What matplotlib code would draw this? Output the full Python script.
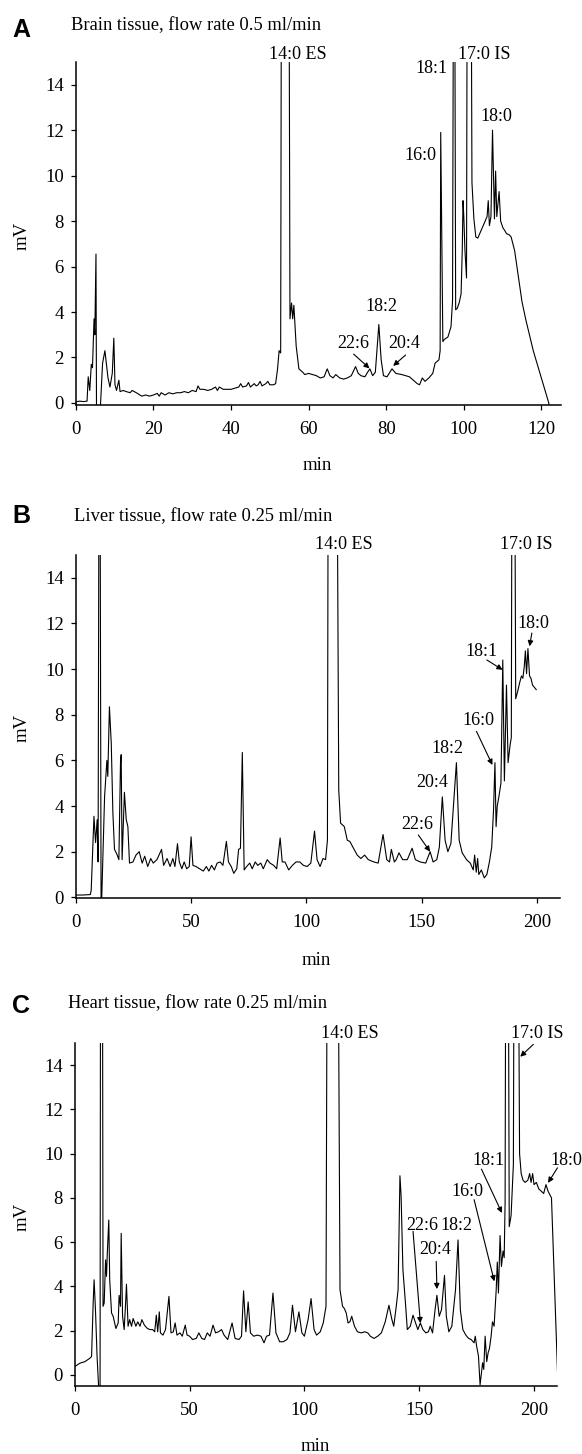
import matplotlib
matplotlib.use('Agg')
import matplotlib.pyplot as plt

W, H, DPI = 582, 1454, 100

# ---------------- data ----------------
brain_time = [0, 1, 2, 2.9, 3.2, 3.6, 4.0, 4.3, 4.7, 4.9, 5.2, 5.35, 6.1, 6.9, 7.3, 7.5, 7.9, 8.3, 8.8, 9.4,
              9.8, 10.1, 10.5, 11.1, 11.4, 12.2, 13, 14, 14.5, 15.6, 16.5, 17, 18, 19, 20, 21, 21.5, 22, 23, 24,
              25, 26, 27, 28, 29, 30, 31, 31.5, 32, 33, 34, 35, 36, 36.5, 37, 38, 39, 40, 41, 42, 42.5, 43, 44,
              44.5, 45, 46, 46.5, 47, 47.5, 48, 49, 49.5, 50, 51, 51.5, 52, 52.4, 52.8, 53.1, 54.8, 55.2, 55.6,
              55.9, 56.2, 56.8, 57.5, 58.5, 59, 60, 61, 62, 63, 64, 64.8, 65.5, 66.3, 67, 68, 69, 70, 71, 72.1,
              72.8, 73.5, 74.5, 75.2, 75.8, 76.5, 77.2, 78.1, 78.7, 79.3, 80.2, 81.5, 82.5, 84, 85, 86, 87, 88,
              88.6, 89.3, 90, 91, 92, 92.6, 93.6, 93.9, 94.05, 94.6, 95.0, 95.9, 96.7, 97.1, 97.5, 97.9, 98.3,
              98.8, 99.3, 99.6, 99.8, 100.0, 100.3, 100.7, 101.0, 101.7, 102.1, 102.6, 103.1, 103.6, 104.5,
              105.5, 106.0, 106.3, 106.6, 107.0, 107.4, 107.9, 108.2, 108.5, 109.1, 109.5, 110.1, 110.5, 111.0,
              111.7, 112.2, 113.1, 114.1, 115.0, 116.0, 117.9, 119.8, 121.9, 122.3]
brain_mv = [0.05, 0.08, 0.06, 0.08, 1.15, 0.55, 1.7, 1.55, 3.7, 3.0, 6.55, -1, -1, 1.75, 2.1, 2.3, 1.7, 1.1, 0.7, 1.3,
            2.85, 0.8, 0.55, 1.0, 0.5, 0.55, 0.5, 0.45, 0.55, 0.45, 0.35, 0.3, 0.35, 0.3, 0.35, 0.42, 0.3, 0.45, 0.35, 0.45,
            0.4, 0.45, 0.45, 0.5, 0.45, 0.55, 0.5, 0.75, 0.6, 0.6, 0.55, 0.6, 0.7, 0.55, 0.7, 0.6, 0.6, 0.6, 0.65, 0.7, 0.85, 0.7, 0.75,
            0.9, 0.7, 0.85, 0.75, 0.8, 0.95, 0.75, 0.85, 0.95, 0.8, 0.8, 0.85, 1.5, 2.3, 2.2, 30, 30, 3.7, 4.4,
            3.7, 4.3, 2.5, 1.5, 1.35, 1.25, 1.3, 1.25, 1.2, 1.1, 1.15, 1.5, 1.2, 1.1, 1.25, 1.1, 1.05, 1.1, 1.2, 1.6,
            1.3, 1.2, 1.15, 1.35, 1.5, 1.2, 1.35, 3.45, 1.9, 1.2, 1.15, 1.5, 1.3, 1.25, 1.2, 1.15, 1.0, 0.85,
            0.8, 1.1, 0.95, 1.1, 1.3, 1.75, 1.9, 2.3, 11.9, 2.7, 2.8, 2.9, 3.35, 4.5, 30, 4.1, 4.16,
            4.4, 4.8, 6.7, 8.9, 8.2, 6.7, 5.5, 30, 30, 9.7, 8.1, 7.3, 7.25, 7.6,
            8.0, 8.2, 8.9, 7.8, 8.2, 12.0, 8.1, 10.2, 8.2, 9.3, 8.0, 7.7, 7.6, 7.45,
            7.4, 7.3, 6.7, 5.5, 4.45, 3.65, 2.3, 1.2, 0.0, -0.5]

liver_time = [0, 3, 6.4, 6.8, 8.0, 8.7, 9.4, 9.8, 10.4, 11.1, 11.6, 12.6, 13.6, 14.0, 14.7, 15.5, 16.2, 16.9, 17.9,
              18.8, 19.5, 19.8, 20.2, 21.2, 22.0, 22.7, 23.4, 24.9, 26.2, 27.6, 28.9, 30.0, 31.3, 32.6, 33.7, 35.3,
              37.3, 38.2, 39.7, 41.0, 42.2, 43.1, 44.2, 45.0, 46.1, 47.1, 48.2, 49.3, 50.1, 50.9, 52.2, 53.8, 55.4,
              56.7, 57.8, 59.0, 60.2, 61.4, 62.7, 63.9, 65.4, 66.3, 67.5, 68.6, 69.9, 70.7, 71.5, 72.3, 73.1, 74.2,
              75.5, 76.6, 77.9, 79.0, 80.3, 81.4, 83.1, 84.3, 85.9, 87.2, 88.7, 89.6, 90.8, 92.4, 94.0, 95.6, 97.2,
              98.8, 100.4, 102.0, 103.6, 104.7, 106.0, 107.3, 108.4, 109.2, 109.7, 112.9, 114.1, 114.9, 116.5,
              117.8, 118.9, 120.5, 122.1, 123.7, 125.3, 126.9, 129.3, 131.2, 133.3, 134.9, 136.1, 136.9, 138.2,
              139.0, 140.2, 141.8, 143.8, 145.9, 147.3, 149.4, 151.8, 153.7, 155.0, 156.6, 157.7, 159.0, 160.2,
              161.4, 162.7, 164.3, 165.1, 166.3, 167.6, 169.5, 171.1, 172.4, 173.0, 173.7, 174.3, 174.8, 175.9,
              177.2, 178.3, 179.4, 180.4, 181.2, 181.8, 182.3, 182.8, 183.5, 184.4, 185.2, 185.9, 186.8, 187.5,
              188.4, 188.9, 189.4, 190.0, 190.8, 191.6, 192.5, 193.3, 193.9, 194.5, 195.0, 195.5, 196.1, 196.8,
              197.4, 198.1, 198.9, 199.7]
liver_mv = [0.1, 0.1, 0.12, 0.3, 3.55, 2.4, 3.4, 1.55, 30, -1, 0.75, 4.4, 6.0, 5.3, 8.35, 6.75, 3.7, 2.1, 1.9,
            1.65, 5.9, 6.25, 1.65, 4.6, 3.4, 3.1, 1.5, 1.55, 1.85, 2.0, 1.5, 1.8, 1.35, 1.7, 1.5, 1.65,
            2.1, 1.4, 1.7, 1.35, 1.7, 1.35, 2.35, 1.55, 1.25, 1.55, 1.25, 1.35, 2.65, 1.4, 1.35, 1.25, 1.15,
            1.35, 1.15, 1.4, 1.2, 1.5, 1.55, 1.4, 2.45, 1.55, 1.35, 1.05, 1.25, 2.1, 2.15, 6.35, 1.2, 1.35,
            1.5, 1.25, 1.55, 1.4, 1.5, 1.25, 1.65, 1.5, 1.4, 1.25, 2.6, 1.55, 1.55, 1.2, 1.4, 1.55, 1.55,
            1.4, 1.35, 1.5, 2.9, 1.65, 1.35, 1.7, 1.65, 2.5, 30, 30, 4.7, 3.25, 3.1,
            2.5, 2.45, 2.15, 1.85, 1.7, 1.85, 1.65, 1.55, 1.5, 2.75, 1.65, 1.55, 2.1, 1.55,
            1.65, 1.95, 1.65, 1.65, 2.15, 1.65, 1.55, 1.5, 2.0, 1.55, 1.65, 2.2, 4.4, 2.5,
            2.0, 2.35, 4.7, 5.9, 2.5, 1.95, 1.65, 1.5, 1.2, 1.85, 1.1, 1.7, 1.0, 1.2,
            0.85, 1.0, 1.55, 2.2, 3.85, 5.9, 3.1, 4.0, 4.4, 5.0, 10.4, 5.1, 9.3, 5.9,
            6.7, 7.0, 30, 30, 8.7, 9.0, 9.4, 9.7, 9.6, 10.1, 10.8, 9.8, 10.9, 9.7,
            9.6, 9.3, 9.2, 9.1]

heart_time = [0, 2.2, 4.4, 6.5, 7.3, 8.0, 8.4, 9.0, 9.7, 10.6, 11.0, 11.3, 11.9, 12.3, 12.8, 13.4, 13.8, 14.2, 14.8,
              15.2, 16.0, 16.7, 17.9, 18.9, 19.3, 19.9, 20.2, 20.8, 21.5, 22.2, 22.5, 23.2, 23.9, 24.7, 25.4, 26.6,
              27.4, 28.4, 29.2, 30.3, 31.6, 32.7, 33.9, 34.8, 35.5, 36.1, 36.8, 37.3, 38.4, 39.5, 41.0, 41.9, 42.9,
              43.7, 44.5, 45.8, 46.8, 48.1, 48.9, 50.0, 51.3, 52.9, 54.0, 55.3, 56.5, 57.7, 58.9, 60.2, 61.3, 62.6,
              63.9, 65.0, 66.6, 68.5, 69.8, 71.5, 72.6, 73.5, 74.5, 75.5, 76.5, 77.9, 79.5, 81.1, 82.4, 83.5, 84.8,
              86.3, 87.6, 89.2, 90.8, 92.4, 93.7, 94.8, 96.1, 97.6, 98.9, 100.0, 101.6, 102.9, 104.2, 105.3, 106.9,
              108.2, 109.4, 110.2, 114.2, 115.5, 116.6, 117.4, 118.2, 119.0, 119.8, 120.6, 121.8, 123.1, 124.7,
              126.3, 127.6, 128.7, 130.3, 131.9, 133.5, 135.2, 136.8, 138.1, 138.9, 140.0, 140.8, 141.6, 142.1,
              142.9, 144.0, 144.8, 146.1, 147.3, 148.4, 149.4, 150.5, 151.6, 152.9, 154.0, 154.8, 155.8, 156.9,
              157.7, 158.7, 159.7, 161.0, 161.8, 162.9, 164.2, 165.8, 166.9, 167.9, 169.0, 170.3, 171.5, 172.6,
              173.9, 174.4, 175.0, 175.8, 176.5, 177.1, 177.6, 178.1, 178.7, 179.4, 180.0, 180.6, 181.3, 181.9,
              182.6, 183.1, 183.5, 184.0, 184.5, 185.2, 185.8, 186.5, 187.0, 187.4, 187.9, 188.5, 189.2, 190.0,
              191.0, 191.6, 192.7, 193.7, 194.4, 195.2, 196.1, 197.3, 198.1, 198.7, 199.4, 200.0, 201.0, 202.1,
              203.2, 204.2, 205.2, 206.1, 207.6, 209.0, 210.2]
heart_mv = [0.38, 0.53, 0.6, 0.75, 0.83, 3.25, 4.3, 2.95, 0.83, -1, -1, 30, 30, 3.1, 3.25, 5.2, 4.45, 5.6, 7.0,
            4.3, 2.8, 2.65, 2.1, 2.35, 3.6, 3.1, 6.4, 2.65, 2.05, 3.4, 4.1, 2.2, 2.5, 2.2, 2.55, 2.2,
            2.4, 2.2, 2.5, 2.25, 2.1, 2.05, 2.05, 1.95, 2.7, 1.95, 2.85, 1.9, 1.8, 2.05, 3.55, 1.9, 1.95,
            2.35, 1.8, 1.9, 1.75, 2.25, 1.8, 1.75, 1.6, 1.65, 1.9, 1.65, 1.6, 1.9, 1.75, 2.25, 1.9, 1.95,
            2.05, 1.8, 1.6, 2.35, 1.65, 1.6, 1.75, 3.8, 1.95, 3.3, 1.9, 1.75, 1.8, 1.75, 1.45, 1.75, 1.8,
            3.7, 1.9, 1.5, 1.5, 1.6, 1.9, 3.15, 1.95, 2.85, 1.9, 1.75, 2.5, 3.45, 2.05, 1.8, 1.95,
            2.35, 3.1, 30, 30, 3.85, 3.1, 3.0, 2.8, 2.35, 2.4, 2.65, 2.2, 1.95, 1.9,
            1.95, 1.9, 1.75, 1.65, 1.75, 1.9, 2.4, 3.15, 2.5, 2.2, 3.1, 3.85, 9.0, 8.1,
            4.75, 3.25, 2.05, 2.2, 2.7, 2.35, 2.05, 2.35, 2.05, 1.9, 1.95, 2.2, 1.9, 2.95,
            3.6, 2.65, 2.95, 4.5, 2.65, 1.95, 2.2, 3.85, 6.1, 2.95, 2.05, 1.8, 1.65, 1.6,
            1.45, 1.75, 1.3, 0.85, -0.45, 0.1, 0.55, 0.25, 1.75, 0.6, 1.0, 1.2, 1.75, 2.4,
            2.2, 3.1, 3.8, 5.1, 3.7, 6.3, 4.9, 5.6, 5.3, 7.8, 30, 30, 6.7, 7.2,
            9.5, 30, 30, 10.0, 9.1, 8.8, 8.7, 8.8, 9.1, 8.7, 9.1, 8.6, 8.7, 8.4,
            8.3, 8.2, 8.6, 8.3, 8.0, 3.8, 0.2]

brain_labels = [("14:0 ES", 57.3, 15.35, None), ("18:1", 91.6, 14.7, None), ("17:0 IS", 105.3, 15.35, None),
                ("16:0", 88.8, 10.9, None), ("18:0", 108.5, 12.6, None), ("18:2", 78.8, 4.23, None),
                ("22:6", 71.6, 2.6, ((71.6, 2.15), (75.7, 1.52))),
                ("20:4", 84.7, 2.6, ((85.0, 2.11), (81.8, 1.63)))]
liver_labels = [("14:0 ES", 116.1, 15.45, None), ("17:0 IS", 195.2, 15.45, None),
                ("18:0", 198.4, 12.0, ((197.8, 11.58), (196.8, 11.0))),
                ("18:1", 175.9, 10.75, ((178.3, 10.4), (185.1, 9.97))),
                ("16:0", 174.6, 7.75, ((173.8, 7.27), (180.7, 5.8))),
                ("18:2", 161.4, 6.5, None), ("20:4", 154.7, 5.03, None),
                ("22:6", 148.3, 3.2, ((148.6, 2.73), (153.7, 2.0)))]
heart_labels = [("14:0 ES", 119.8, 15.44, None),
                ("17:0 IS", 201.3, 15.44, ((199.7, 14.94), (194.0, 14.38))),
                ("18:0", 214.2, 9.7, ((210.2, 9.36), (206.1, 8.68))),
                ("18:1", 180.3, 9.7, ((177.1, 9.3), (186.0, 7.32))),
                ("16:0", 171.0, 8.27, ((173.9, 7.92), (182.7, 4.23))),
                ("22:6", 151.3, 6.76, ((147.3, 6.49), (150.5, 2.34))),
                ("18:2", 166.1, 6.76, None),
                ("20:4", 156.9, 5.66, ((157.4, 5.13), (157.7, 3.88)))]

titles = ["Brain tissue, flow rate 0.5 ml/min", "Liver tissue, flow rate 0.25 ml/min",
          "Heart tissue, flow rate 0.25 ml/min"]
letters = ["A", "B", "C"]

# ---------------- layout ----------------
plt.rcParams['font.family'] = ['Liberation Serif', 'DejaVu Serif']
fig = plt.figure(figsize=(W / DPI, H / DPI), dpi=DPI)


def px(x, y):
    return x / W, 1 - y / H


panels = [
    dict(t=brain_time, v=brain_mv, labels=brain_labels, box=(75.8, 560.8, 62, 405), xlim=(0, 125),
         ylim=(-0.09, 15), xticks=list(range(0, 121, 20)), letter_xy=(12, 37), title_xy=(71, 30),
         xlab_y=470, ylab_y=236),
    dict(t=liver_time, v=liver_mv, labels=liver_labels, box=(75.5, 560.0, 555, 898), xlim=(0, 210),
         ylim=(-0.03, 15), xticks=list(range(0, 201, 50)), letter_xy=(12, 523), title_xy=(74, 521),
         xlab_y=965, ylab_y=728),
    dict(t=heart_time, v=heart_mv, labels=heart_labels, box=(74.8, 557.0, 1043, 1386), xlim=(0, 210),
         ylim=(-0.5, 15), xticks=list(range(0, 201, 50)), letter_xy=(12, 1013), title_xy=(68, 1008),
         xlab_y=1451, ylab_y=1217),
]

for i, p in enumerate(panels):
    l, r, t, b = p['box']
    ax = fig.add_axes([l / W, 1 - b / H, (r - l) / W, (b - t) / H])
    ax.plot(p['t'], p['v'], color='black', lw=0.8)
    ax.set_xlim(*p['xlim'])
    ax.set_ylim(*p['ylim'])
    ax.set_xticks(p['xticks'])
    ax.set_yticks(list(range(0, 15, 2)))
    for s in ('top', 'right'):
        ax.spines[s].set_visible(False)
    for s in ('left', 'bottom'):
        ax.spines[s].set_linewidth(1.1)
    ax.tick_params(axis='both', direction='out', length=3.5, width=0.9, labelsize=13.5)
    ax.tick_params(axis='x', pad=8)
    ax.tick_params(axis='y', pad=5)
    for lab, tx, ty, arrow in p['labels']:
        ax.text(tx, ty, lab, ha='center', va='center', fontsize=13, clip_on=False)
        if arrow is not None:
            ax.annotate('', xy=arrow[1], xytext=arrow[0], annotation_clip=False,
                        arrowprops=dict(arrowstyle='-|>', color='black', lw=0.8,
                                        mutation_scale=8, shrinkA=0, shrinkB=0))
    fig.text(*px(*p['letter_xy']), letters[i], fontsize=18, fontweight='bold',
             family=['Liberation Sans', 'DejaVu Sans'], ha='left', va='baseline')
    fig.text(*px(*p['title_xy']), titles[i], fontsize=13.3, ha='left', va='baseline')
    fig.text(*px((l + r) / 2 - 1, p['xlab_y']), 'min', fontsize=13.5, ha='center', va='baseline')
    fig.text(*px(22.5, p['ylab_y']), 'mV', fontsize=13.5, rotation=90, ha='center', va='center')

fig.savefig('out.png', dpi=DPI, facecolor='white')
